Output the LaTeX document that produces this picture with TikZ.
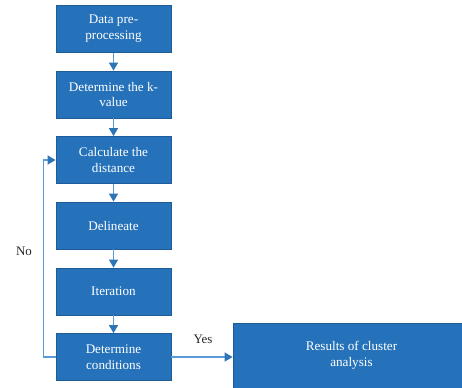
\documentclass[tikz,border=0pt]{standalone}
\usepackage{fontspec}
\setmainfont{Liberation Serif}
\usetikzlibrary{arrows.meta,positioning}
\definecolor{boxfill}{HTML}{2672BA}
\definecolor{boxdraw}{HTML}{1F5B96}
\definecolor{linec}{HTML}{5B9BD5}
\definecolor{tipc}{HTML}{2E75B6}
\begin{document}
\begin{tikzpicture}[x=1bp,y=-1bp,
  stepbox/.style={draw=boxdraw,fill=boxfill,line width=0.8bp,minimum width=115bp,minimum height=47bp,
    text=white,align=center,font=\fontsize{13.2}{16}\selectfont,inner sep=0pt},
  boxtext/.style={text=white,align=center,font=\fontsize{13.2}{16}\selectfont,inner sep=0pt},
  flow/.style={draw=linec,line width=1.4bp,-{Triangle[length=8bp,width=9bp,fill=tipc,color=tipc]}},
  lbl/.style={font=\fontsize{13}{16}\selectfont,text=black!85}]
\useasboundingbox (0,0) rectangle (462,387);
\clip (0,0) rectangle (462,387);
\node[stepbox] (a) at (113.5,29) {Data pre-\\processing};
\node[stepbox] (b) at (113.5,94.5) {Determine the k-\\value};
\node[stepbox] (c) at (113.5,160) {Calculate the\\distance};
\node[stepbox] (d) at (113.5,225.5) {Delineate};
\node[stepbox] (e) at (113.5,291.5) {Iteration};
\node[stepbox] (f) at (113.5,357) {Determine\\conditions};
\node[stepbox,minimum width=237bp,minimum height=74bp] (g) at (351.5,360) {};
\node[boxtext] (gt) at (351.5,355.5) {Results of cluster\\analysis};
\coordinate (lb) at (43.5,357);
\coordinate (lt) at (43.5,160);
\draw[flow] (a) -- (b);
\draw[flow] (b) -- (c);
\draw[flow] (c) -- (d);
\draw[flow] (d) -- (e);
\draw[flow] (e) -- (f);
\draw[flow] (f.west) -- (lb) -- (lt) -- (c.west);
\draw[flow] (f.east) -- (f.east -| g.west);
\node[lbl] (no) at (24,251) {No};
\node[lbl] (yes) at (203,339) {Yes};
\end{tikzpicture}
\end{document}
